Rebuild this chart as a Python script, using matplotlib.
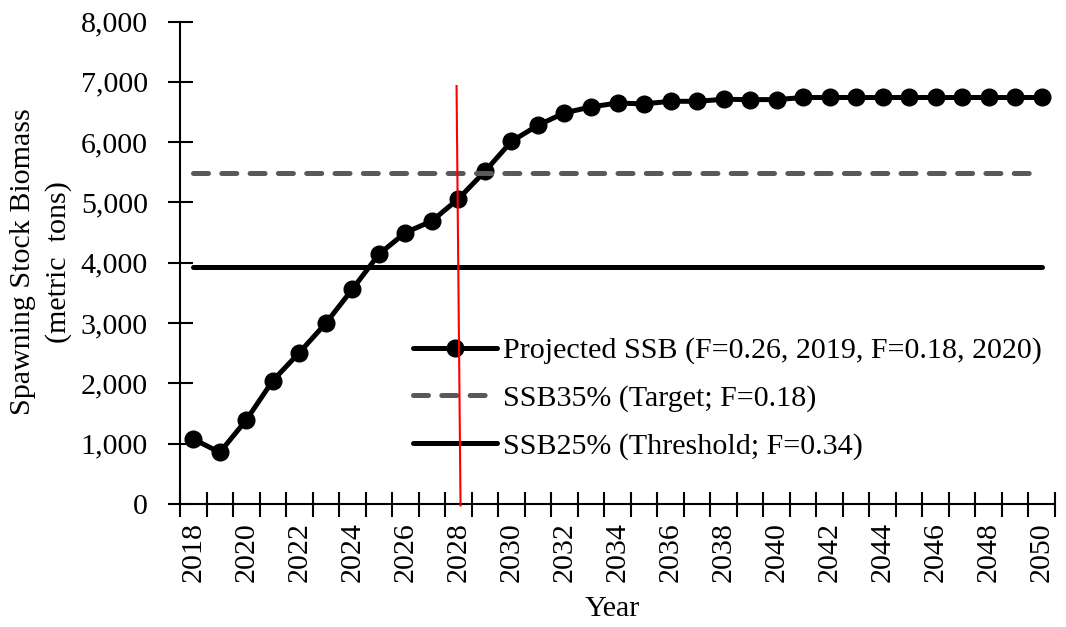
import matplotlib
matplotlib.use("Agg")
import matplotlib.pyplot as plt
import numpy as np
from matplotlib.ticker import FuncFormatter, MultipleLocator, FixedLocator

years = list(range(2018, 2051))
projected_ssb = [1078, 855, 1393, 2045, 2510, 2997, 3561, 4141, 4499, 4693,
                 5060, 5515, 6012, 6280, 6485, 6584, 6648, 6634, 6677, 6677,
                 6710, 6705, 6705, 6740, 6740, 6740, 6740, 6740, 6740, 6740,
                 6740, 6740, 6740]
ssb35_target = 5484
ssb25_threshold = 3935
red_line_x = [2027.93, 2028.08]
red_line_y = [6930, -25]

labels = ["Projected SSB (F=0.26, 2019, F=0.18, 2020)",
          "SSB35% (Target; F=0.18)",
          "SSB25% (Threshold; F=0.34)"]

plt.rcParams['font.family'] = ['Liberation Serif', 'DejaVu Serif']
FS = 21.6

fig = plt.figure(figsize=(10.66, 6.27), dpi=100)
ax = fig.add_axes([180/1066, 1-504/627, 875/1066, (504-21.5)/627])

lw = 3.6
ax.plot(years, projected_ssb, color='black', lw=lw, marker='o', markersize=12,
        solid_capstyle='round', zorder=3, label=labels[0])
ax.plot(years, [ssb35_target]*len(years), color='#595959', lw=lw,
        dashes=(3.0, 2.66), dash_capstyle='round', zorder=4, label=labels[1])
ax.plot(years, [ssb25_threshold]*len(years), color='black', lw=lw,
        solid_capstyle='round', zorder=2.5, label=labels[2])
ax.plot(red_line_x, red_line_y, color='red', lw=1.5, clip_on=False, zorder=6)

ax.set_xlim(2017.5, 2050.5)
ax.set_ylim(0, 8000)

ax.xaxis.set_major_locator(FixedLocator([y for y in years if y % 2 == 0]))
ax.xaxis.set_minor_locator(FixedLocator(np.arange(2017.5, 2051, 1.0)))
ax.set_xticklabels([str(y) for y in years if y % 2 == 0], rotation=90, fontsize=FS)
ax.tick_params(axis='x', which='major', length=0, pad=13)
ax.tick_params(axis='x', which='minor', direction='inout', length=18, width=1.5)

ax.yaxis.set_major_locator(MultipleLocator(1000))
ax.yaxis.set_major_formatter(FuncFormatter(lambda v, p: f"{int(v):,}"))
ax.tick_params(axis='y', direction='inout', length=18, width=1.5, labelsize=FS, pad=14)

for s in ['top', 'right']:
    ax.spines[s].set_visible(False)
for s in ['left', 'bottom']:
    ax.spines[s].set_linewidth(1.5)

fig.text(41/1066, 1-262/627, "Spawning Stock Biomass\n(metric  tons)", rotation=90,
         ha='center', va='center', fontsize=FS, linespacing=1.45, multialignment='center')
fig.text(612/1066, 1-609/627, "Year", ha='center', va='center', fontsize=FS)

leg = ax.legend(loc='upper left', bbox_to_anchor=((413-180)/875, (504-337)/482.5),
                frameon=False, fontsize=FS, borderpad=0, borderaxespad=0,
                handlelength=2.8, handletextpad=0.2, labelspacing=0.68, numpoints=1)

fig.savefig("out.png", dpi=100)
